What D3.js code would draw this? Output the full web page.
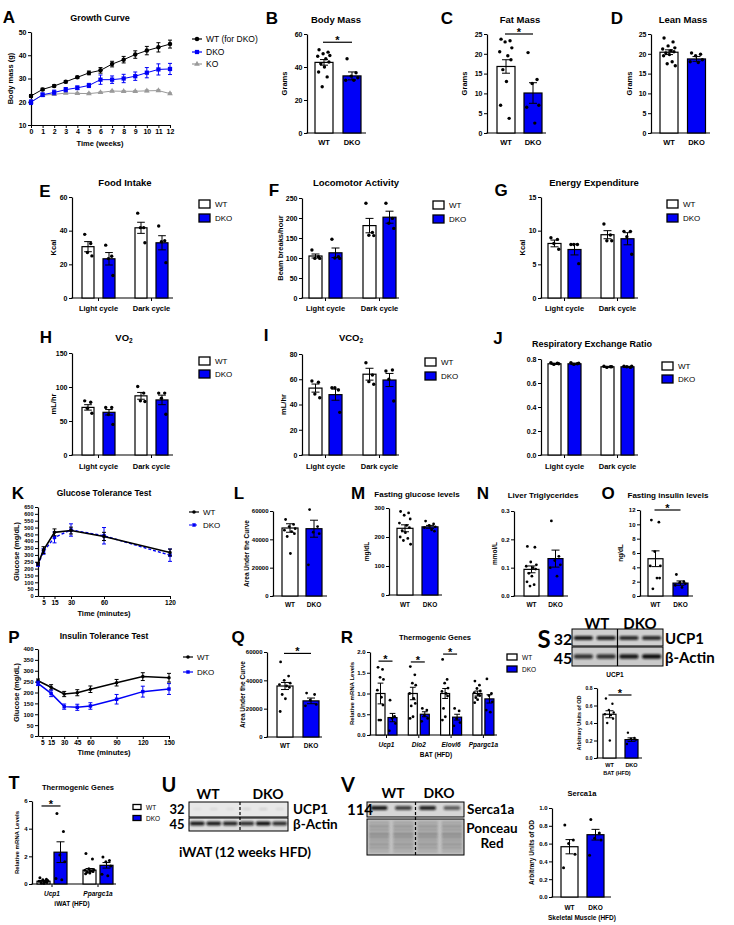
<!DOCTYPE html>
<html><head><meta charset="utf-8">
<script src="https://cdn.jsdelivr.net/npm/d3@7"></script>
<style>body{margin:0;background:#fff}svg{display:block}</style>
</head><body><script>
// ---------------- DATA ----------------
const groupLabels = ['WT','DKO'];
const cycleLabels = ['Light cycle','Dark cycle'];
const genesBAT = ['Ucp1','Dio2','Elovl6','Ppargc1a'];
const genesIWAT = ['Ucp1','Ppargc1a'];

const weeks = [0,1,2,3,4,5,6,7,8,9,10,11,12];
const growthWT = [22.5,25.3,26.8,28.6,30.5,32.4,33.5,36.2,38.1,40.3,42.0,43.4,44.8];
const growthWTErr = [0.6,0.5,0.5,0.5,0.5,0.8,1.2,1.2,1.4,1.6,1.8,2.0,1.7];
const growthDKO = [19.8,23.0,24.0,25.2,26.0,27.0,29.5,29.5,30.0,31.0,32.5,33.9,34.1];
const growthDKOErr = [1.0,0.8,1.0,0.9,0.8,0.9,2.0,1.6,1.8,1.8,2.2,2.4,2.4];
const growthKO = [20.0,22.8,23.2,23.7,23.6,23.5,24.0,24.6,24.5,24.5,24.7,24.8,23.5];
const growthKOErr = [0.4,0.5,0.5,0.3,0.3,0.3,0.3,0.3,0.3,0.3,0.4,0.4,0.3];
const growthLegend = ['WT (for DKO)','DKO','KO'];

const bodyMassMean = [42.8,34.6], bodyMassErr = [1.7,2.4];
const bodyMassWT = [50.5,49,48,47,46.5,45,43,42,40,37,34,28];
const bodyMassDKO = [45,36.5,34.5,33.5,32,32];
const fatMassMean = [16.8,10.1], fatMassErr = [1.7,2.6];
const fatMassWT = [23.7,23.3,23,21.5,20.5,19.5,18.5,16,13,7,3.7];
const fatMassDKO = [20.3,13.5,12.5,7,6.5,2.5];
const leanMassMean = [20.4,18.7], leanMassErr = [0.6,0.6];
const leanMassWT = [24,23,22,21.5,21.2,20.8,20.5,20.2,19.8,19.5,18,17.5,17];
const leanMassDKO = [20.2,19.9,19.5,18.5,18,17.8];

const foodWT = [30.5,41.7], foodWTErr = [3,3.3], foodDKO = [23.3,32.8], foodDKOErr = [3.7,4.2];
const foodWTDots = [[37.8,32.4,27,25],[50.4,41.8,41.8,32.8]];
const foodDKODots = [[31.4,24.8,23.4,13.4],[42.8,34,33.4,21]];
const locoWT = [105,181], locoWTErr = [5,18], locoDKO = [113,202], locoDKOErr = [12,15];
const locoWTDots = [[120,103,99,99],[237,164,157,156]];
const locoDKODots = [[147,103,100,99],[237,199,187,174]];
const energyWT = [8.1,9.4], energyWTErr = [0.5,0.6], energyDKO = [7.2,8.8], energyDKOErr = [0.8,0.9];
const energyWTDots = [[8.95,8.7,8.1,7.25],[11,9.35,8.5,8.5]];
const energyDKODots = [[7.95,7.95,7.95,5.1],[9.9,9.9,9.1,6.5]];
const vo2WT = [70,87], vo2WTErr = [4,5], vo2DKO = [62.8,81], vo2DKOErr = [4,7];
const vo2WTDots = [[79.6,77.6,68.7,61.3],[100.7,91,79.6,78.6]];
const vo2DKODots = [[70,70,59.4,45],[91,91,83.5,60]];
const vco2WT = [53,64], vco2WTErr = [3.2,4.7], vco2DKO = [47.8,59.4], vco2DKOErr = [4.4,5.2];
const vco2WTDots = [[58.6,57.6,48.3,45.4],[73.1,63.4,58.1,56]];
const vco2DKODots = [[53.3,51.5,53.3,33.8],[66.5,67.3,60,42.8]];
const rerWT = [0.76,0.735], rerWTErr = [0.005,0.004], rerDKO = [0.76,0.735], rerDKOErr = [0.006,0.004];
const rerWTDots = [[0.77,0.765,0.755,0.76],[0.74,0.735,0.73,0.735]];
const rerDKODots = [[0.77,0.76,0.755,0.765],[0.74,0.73,0.735,0.74]];

const gttTime = [0,5,15,30,60,120];
const gttWT = [235,335,465,478,435,318], gttWTErr = [10,25,25,25,30,25];
const gttDKO = [228,325,428,482,440,298], gttDKOErr = [10,20,40,45,60,45];
const gttTicks = [5,15,30,60,120];
const gttAucMean = [48000,47500], gttAucErr = [3000,6000];
const gttAucWT = [54000,50500,49000,47500,46500,45500,44000,42000,30000];
const gttAucDKO = [61000,49000,45000,44000,22000];
const fastGluMean = [230,235], fastGluErr = [12,5];
const fastGluWT = [288,283,275,262,248,240,232,222,215,200,195,188,175];
const fastGluDKO = [255,245,240,235,232,225,220];
const liverTgMean = [0.094,0.132], liverTgErr = [0.012,0.03];
const liverTgWT = [0.175,0.172,0.12,0.11,0.105,0.1,0.095,0.08,0.07,0.05,0.04,0.035];
const liverTgDKO = [0.265,0.14,0.125,0.11,0.1,0.07];
const insulinMean = [5.2,1.8], insulinErr = [1.1,0.3];
const insulinWT = [10.6,10.3,6.2,4.2,4.2,2.5,2.5,1.0];
const insulinDKO = [3.0,2.0,1.9,1.7,1.5,1.2];

const ittTime = [0,15,30,45,60,90,120,150];
const ittWT = [254,224,193,199,215,245,273,268], ittWTErr = [8,12,12,14,15,15,18,20];
const ittDKO = [242,196,135,132,138,169,204,216], ittDKOErr = [10,15,12,14,15,22,25,25];
const ittTicks = [5,15,30,45,60,90,120,150];
const ittAucMean = [36000,25500], ittAucErr = [2500,2000];
const ittAucWT = [53000,43000,40000,38000,37000,36000,35000,30000,27000,18000];
const ittAucDKO = [31000,30000,26000,23000,22000];

const batWT = [1,1,1,1], batWTErr = [0.25,0.15,0.12,0.06];
const batDKO = [0.42,0.5,0.43,0.87], batDKOErr = [0.1,0.06,0.07,0.1];
const batWTDots = [[1.63,1.58,1.39,1.34,1.08,0.91,0.72,0.36,0.36],[1.65,1.45,1.25,1.2,1.0,0.88,0.76,0.7,0.44,0.4],[1.82,1.34,1.25,1.13,1.05,1.0,0.94,0.64,0.44,0.36],[1.3,1.2,1.12,1.06,1.02,0.98,0.95,0.9,0.85,0.78]];
const batDKODots = [[0.84,0.45,0.4,0.28,0.1],[0.64,0.6,0.48,0.4,0.33],[0.64,0.58,0.4,0.3,0.22],[1.35,1.0,0.95,0.8,0.6,0.55]];
const batSig = [1.78,1.76,1.95,null];

const ucp1BatMean = [0.5,0.21], ucp1BatErr = [0.04,0.02];
const ucp1BatWT = [0.68,0.62,0.55,0.52,0.5,0.49,0.45,0.4,0.2];
const ucp1BatDKO = [0.29,0.23,0.22,0.21,0.16];

const iwatWT = [0.2,1.0], iwatWTErr = [0.05,0.12], iwatDKO = [2.3,1.35], iwatDKOErr = [0.75,0.2];
const iwatWTDots = [[0.45,0.35,0.3,0.25,0.2,0.15,0.1,0.08,0.05],[2.2,1.8,1.1,1.05,1.0,0.95,0.9,0.85,0.8,0.75]];
const iwatDKODots = [[5.1,3.8,2.1,1.6,0.4,0.3],[1.95,1.7,1.6,1.3,0.7,0.6]];
const iwatSig = [5.64,null];

const sercaMean = [0.565,0.7], sercaErr = [0.08,0.06];
const sercaWT = [0.81,0.64,0.6,0.48,0.33];
const sercaDKO = [0.87,0.72,0.66,0.64,0.47];

// blot band intensities (per lane)
const blotS_UCP1 = [0.95,0.9,0.85,0.85];
const blotS_Actin = [0.8,0.8,0.95,1.0];
const blotU_UCP1 = [0.05,0.08,0.06,0.1,0.12,0.08];
const blotU_Actin = [0.95,0.95,0.9,0.85,1.0,0.85];
const blotV_Serca = [0.95,0.75,0.9,0.6];
const ponceauPos = [0.1,0.2,0.3,0.41,0.5,0.6,0.7,0.8,0.9];
const ponceauAlpha = [0.25,0.35,0.3,0.45,0.4,0.3,0.35,0.3,0.2];

// ---------------- DRAWING ----------------
const FONT = '"Liberation Sans", Arial, sans-serif';
const BFONT = 'Lato, "Liberation Sans", sans-serif';
const BLUE = '#0000f7';
const svg = d3.select('body').append('svg').attr('width',734).attr('height',925);
const defs = svg.append('defs');
defs.append('filter').attr('id','blur').attr('x','-50%').attr('y','-100%').attr('width','200%').attr('height','300%')
  .append('feGaussianBlur').attr('stdDeviation',1.1);
const JIT = [-0.55,0.45,-0.1,0.65,-0.7,0.2,0.55,-0.35,0.05,-0.6,0.35,-0.2,0.7];

function txt(x,y,s,o={}){
  return svg.append('text').attr('x',x).attr('y',y)
    .attr('text-anchor',o.anchor||'middle').attr('dominant-baseline','central')
    .attr('font-family',o.family||FONT).attr('font-size',o.size||8)
    .attr('font-weight',o.weight||'bold').attr('font-style',o.style||'normal')
    .attr('fill',o.fill||'#000').text(s);
}
function vtxt(x,y,s,size){
  return svg.append('text').attr('transform',`translate(${x},${y}) rotate(-90)`)
    .attr('text-anchor','middle').attr('dominant-baseline','central')
    .attr('font-family',FONT).attr('font-size',size).attr('font-weight','bold').text(s);
}
function band(domain, first, w, gap){
  const s = w+gap, p = gap/s;
  return d3.scaleBand().domain(domain).range([first-gap/2, first-gap/2+domain.length*s]).paddingInner(p).paddingOuter(p/2);
}
function yAxis(y,x,ticks,fmt,size){
  const g = svg.append('g').attr('transform',`translate(${x},0)`)
    .call(d3.axisLeft(y).tickValues(ticks).tickFormat(fmt).tickSize(3).tickSizeOuter(0).tickPadding(1.5));
  g.attr('font-family',FONT).attr('font-size',size).attr('font-weight','bold');
  g.select('.domain').attr('stroke-width',1.2);
  g.selectAll('.tick line').attr('stroke-width',1);
  return g;
}
function hLine(x1,x2,y,w){
  svg.append('line').attr('x1',x1).attr('x2',x2).attr('y1',y).attr('y2',y).attr('stroke','#000').attr('stroke-width',w||1.2);
}
function star(x1,x2,yv){
  hLine(x1,x2,yv,1.2);
  svg.append('text').attr('x',(x1+x2)/2).attr('y',yv+2).attr('text-anchor','middle')
    .attr('font-family',FONT).attr('font-size',11).attr('font-weight','bold').text('*');
}
function drawBar(y,left,w,mean,err,dots,fill,r){
  const y0 = y(0);
  svg.append('rect').attr('x',left).attr('y',y(mean)).attr('width',w).attr('height',y0-y(mean))
    .attr('fill',fill).attr('stroke','#000').attr('stroke-width',1.2);
  const cx = left+w/2, cw = Math.min(w*0.32,4);
  svg.append('line').attr('x1',cx).attr('x2',cx).attr('y1',y(mean-err)).attr('y2',y(mean+err)).attr('stroke','#000').attr('stroke-width',1);
  [mean-err,mean+err].forEach(v=>svg.append('line').attr('x1',cx-cw).attr('x2',cx+cw).attr('y1',y(v)).attr('y2',y(v)).attr('stroke','#000').attr('stroke-width',1));
  dots.forEach((v,i)=>svg.append('circle').attr('cx',cx+JIT[i%JIT.length]*w*0.5).attr('cy',y(v)).attr('r',r||1.7).attr('fill','#000'));
}
function simplePanel(c){
  const y = d3.scaleLinear().domain(c.domain).range([c.bottom,c.top]);
  const x = band(groupLabels,c.first,c.w,c.gap);
  yAxis(y,c.axisX,c.ticks,c.fmt||d3.format('d'),c.tick||7);
  hLine(c.axisX-0.6,c.xEnd,y(0));
  groupLabels.forEach((k,i)=>drawBar(y,x(k),x.bandwidth(),c.means[i],c.errs[i],c.dots[i],i?BLUE:'#fff',c.r));
  groupLabels.forEach(k=>txt(x(k)+x.bandwidth()/2,c.catY,k,{size:c.cat||7.5}));
  if(c.title) txt(c.titleX,c.titleY,c.title,{size:c.titleSize||9.5});
  if(c.ylabel) vtxt(c.ylabelX,(c.top+c.bottom)/2,c.ylabel,c.ylSize||7.5);
  if(c.letter) txt(c.letterX,c.letterY,c.letter,{size:c.letterSize||17});
  if(c.xlabel) txt(c.xlabel[1],c.xlabel[2],c.xlabel[0],{size:c.cat||7.5});
  if(c.sig!=null) star(x('WT')+x.bandwidth()/2-1,x('DKO')+x.bandwidth()/2,y(c.sig));
}
function legendBoxes(lx,ys,bw,bh,size){
  groupLabels.forEach((k,i)=>{
    svg.append('rect').attr('x',lx).attr('y',ys[i]-bh/2).attr('width',bw).attr('height',bh)
      .attr('fill',i?BLUE:'#fff').attr('stroke','#000').attr('stroke-width',1.3);
    txt(lx+bw+5,ys[i],k,{anchor:'start',weight:'normal',size:size});
  });
}
function groupedPanel(c){
  const y = d3.scaleLinear().domain(c.domain).range([c.bottom,c.top]);
  const span = 2*c.w+c.gap;
  const gx = band(c.groups,c.first,span,c.step-span);
  const sx = band(groupLabels,0,c.w,c.gap);
  yAxis(y,c.axisX,c.ticks,c.fmt||d3.format('d'),c.tick||7);
  hLine(c.axisX-0.6,c.xEnd,y(0));
  c.groups.forEach((g,gi)=>{
    groupLabels.forEach((s,si)=>drawBar(y,gx(g)+sx(s),c.w,c.means[si][gi],c.errs[si][gi],c.dots[si][gi],si?BLUE:'#fff',c.r));
    const cx = gx(g)+span/2;
    svg.append('line').attr('x1',cx).attr('x2',cx).attr('y1',y(0)).attr('y2',y(0)+3).attr('stroke','#000').attr('stroke-width',1);
    txt(cx,c.catY,g,{size:c.cat||7.5,style:c.italic?'italic':'normal'});
    if(c.sig && c.sig[gi]!=null) star(gx(g)+sx('WT')+c.w/2-2,gx(g)+sx('DKO')+c.w/2,y(c.sig[gi]));
  });
  legendBoxes(c.leg.x,c.leg.y,c.leg.bw||11,c.leg.bh||8,c.leg.size||8);
  if(c.title){ const t = txt(c.titleX,c.titleY,c.title,{size:c.titleSize||9.5}); if(c.sub){ t.append('tspan').attr('font-size',6.5).attr('dy',2.5).text(c.sub);} }
  if(c.ylabel) vtxt(c.ylabelX,(c.top+c.bottom)/2,c.ylabel,c.ylSize||7.5);
  if(c.letter) txt(c.letterX,c.letterY,c.letter,{size:c.letterSize||17});
  if(c.xlabel) txt(c.xlabel[1],c.xlabel[2],c.xlabel[0],{size:c.cat||7.5});
}
function linePanel(c){
  const x = d3.scaleLinear().domain(c.xd).range([c.x0,c.x1]);
  const y = d3.scaleLinear().domain(c.yd).range([c.y0,c.y1]);
  yAxis(y,c.x0,c.yticks,d3.format('d'),c.tick);
  const gx = svg.append('g').attr('transform',`translate(0,${c.y0})`)
    .call(d3.axisBottom(x).tickValues(c.xticks).tickFormat(d3.format('d')).tickSize(3).tickSizeOuter(0).tickPadding(1.5));
  gx.attr('font-family',FONT).attr('font-size',c.xtick||c.tick).attr('font-weight','bold');
  gx.select('.domain').attr('stroke-width',1.2);
  c.series.forEach(s=>{
    const pts = s.vals.map((v,i)=>[c.xs[i],v,s.errs[i]]);
    svg.append('path').datum(pts).attr('d',d3.line().x(d=>x(d[0])).y(d=>y(d[1])))
      .attr('fill','none').attr('stroke',s.color).attr('stroke-width',s.lw||1).attr('stroke-dasharray',s.dash||null);
    pts.forEach(d=>{
      svg.append('line').attr('x1',x(d[0])).attr('x2',x(d[0])).attr('y1',y(d[1]-d[2])).attr('y2',y(d[1]+d[2])).attr('stroke',s.color).attr('stroke-width',1);
      [d[1]-d[2],d[1]+d[2]].forEach(v=>svg.append('line').attr('x1',x(d[0])-2).attr('x2',x(d[0])+2).attr('y1',y(v)).attr('y2',y(v)).attr('stroke',s.color).attr('stroke-width',1));
      svg.append('path').attr('d',d3.symbol().type(s.sym).size(s.size)()).attr('transform',`translate(${x(d[0])},${y(d[1])})`).attr('fill',s.color);
    });
  });
  c.series.forEach((s,i)=>{
    const ly = c.leg.y[i];
    svg.append('line').attr('x1',c.leg.x).attr('x2',c.leg.x+10).attr('y1',ly).attr('y2',ly).attr('stroke',s.color).attr('stroke-width',1.2).attr('stroke-dasharray',s.dash||null);
    svg.append('path').attr('d',d3.symbol().type(s.sym).size(s.size)()).attr('transform',`translate(${c.leg.x+5},${ly})`).attr('fill',s.color);
    txt(c.leg.x+14,ly,s.name,{anchor:'start',weight:'normal',size:c.leg.size||8.5});
  });
  txt(c.titleX,c.titleY,c.title,{size:c.titleSize||9});
  txt(c.xlabX,c.xlabY,c.xlab,{size:7.5});
  vtxt(c.ylabX,(c.y0+c.y1)/2,c.ylab,7.5);
  txt(c.letterX,c.letterY,c.letter,{size:17});
}

// ---- Row 1 ----
linePanel({xd:[0,12],x0:31,x1:170,yd:[10,50],y0:125,y1:32,xs:weeks,xticks:weeks,yticks:[10,20,30,40,50],tick:7,
  series:[
    {name:growthLegend[2],vals:growthKO,errs:growthKOErr,color:'#9a9a9a',sym:d3.symbolTriangle,size:14},
    {name:growthLegend[1],vals:growthDKO,errs:growthDKOErr,color:BLUE,sym:d3.symbolSquare,size:18},
    {name:growthLegend[0],vals:growthWT,errs:growthWTErr,color:'#000',sym:d3.symbolCircle,size:16}],
  leg:{x:192,y:[64,52,39],size:8.5},title:'Growth Curve',titleX:100,titleY:18,
  xlab:'Time (weeks)',xlabX:100,xlabY:143,ylab:'Body mass (g)',ylabX:10,letter:'A',letterX:9,letterY:17});
simplePanel({axisX:307,xEnd:366,domain:[0,60],top:34,bottom:133,ticks:[0,20,40,60],first:315,w:18,gap:10,
  means:bodyMassMean,errs:bodyMassErr,dots:[bodyMassWT,bodyMassDKO],catY:142,title:'Body Mass',titleX:336,titleY:19,
  ylabel:'Grams',ylabelX:284,letter:'B',letterX:272,letterY:18,sig:55});
simplePanel({axisX:487,xEnd:546,domain:[0,25],top:34,bottom:133,ticks:[0,5,10,15,20,25],first:497,w:18,gap:9,
  means:fatMassMean,errs:fatMassErr,dots:[fatMassWT,fatMassDKO],catY:142,title:'Fat Mass',titleX:520,titleY:19,
  ylabel:'Grams',ylabelX:464,letter:'C',letterX:447,letterY:18,sig:25});
simplePanel({axisX:651,xEnd:710,domain:[0,25],top:34,bottom:133,ticks:[0,5,10,15,20,25],first:660,w:18,gap:9.5,
  means:leanMassMean,errs:leanMassErr,dots:[leanMassWT,leanMassDKO],catY:142,title:'Lean Mass',titleX:683,titleY:19,
  ylabel:'Grams',ylabelX:629,letter:'D',letterX:617,letterY:18});

// ---- Row 2 ----
groupedPanel({axisX:72,xEnd:173,domain:[0,60],top:197,bottom:298,ticks:[0,20,40,60],groups:cycleLabels,first:82,w:12,gap:9,step:53,
  means:[foodWT,foodDKO],errs:[foodWTErr,foodDKOErr],dots:[foodWTDots,foodDKODots],catY:308,
  leg:{x:199,y:[204,218]},title:'Food Intake',titleX:125,titleY:182,ylabel:'Kcal',ylabelX:53,letter:'E',letterX:45,letterY:191});
groupedPanel({axisX:302,xEnd:399,domain:[0,250],top:198,bottom:298,ticks:[0,50,100,150,200,250],groups:cycleLabels,first:309,w:13,gap:7,step:54,
  means:[locoWT,locoDKO],errs:[locoWTErr,locoDKOErr],dots:[locoWTDots,locoDKODots],catY:308,
  leg:{x:433,y:[205,219]},title:'Locomotor Activity',titleX:356,titleY:182,ylabel:'Beam breaks/hour',ylabelX:280,letter:'F',letterX:274,letterY:190});
groupedPanel({axisX:541,xEnd:638,domain:[0,15],top:197,bottom:298,ticks:[0,5,10,15],groups:cycleLabels,first:548,w:13,gap:7,step:53,
  means:[energyWT,energyDKO],errs:[energyWTErr,energyDKOErr],dots:[energyWTDots,energyDKODots],catY:308,
  leg:{x:667,y:[204,218]},title:'Energy Expenditure',titleX:594,titleY:182,ylabel:'Kcal',ylabelX:522,letter:'G',letterX:501,letterY:190});

// ---- Row 3 ----
groupedPanel({axisX:72,xEnd:173,domain:[0,150],top:353,bottom:455,ticks:[0,50,100,150],groups:cycleLabels,first:82,w:12,gap:9,step:53,
  means:[vo2WT,vo2DKO],errs:[vo2WTErr,vo2DKOErr],dots:[vo2WTDots,vo2DKODots],catY:466,
  leg:{x:199,y:[361,374]},title:'VO',sub:'2',titleX:124,titleY:337,ylabel:'mL/hr',ylabelX:53,letter:'H',letterX:46,letterY:337});
groupedPanel({axisX:302,xEnd:399,domain:[0,80],top:354,bottom:455,ticks:[0,20,40,60,80],groups:cycleLabels,first:309,w:13,gap:7,step:54,
  means:[vco2WT,vco2DKO],errs:[vco2WTErr,vco2DKOErr],dots:[vco2WTDots,vco2DKODots],catY:466,
  leg:{x:425,y:[362,376]},title:'VCO',sub:'2',titleX:351,titleY:337,ylabel:'mL/hr',ylabelX:283,letter:'I',letterX:266,letterY:335});
groupedPanel({axisX:541,xEnd:638,domain:[0,0.8],top:359,bottom:455,ticks:[0,0.2,0.4,0.6,0.8],fmt:d3.format('.1f'),groups:cycleLabels,first:548,w:13,gap:7,step:53,
  means:[rerWT,rerDKO],errs:[rerWTErr,rerDKOErr],dots:[rerWTDots,rerDKODots],catY:466,
  leg:{x:662,y:[366,379]},title:'Respiratory Exchange Ratio',titleSize:9,titleX:592,titleY:344,letter:'J',letterX:498,letterY:338});

// ---- Row 4 ----
linePanel({xd:[0,120],x0:38,x1:170,yd:[0,650],y0:596,y1:507,xs:gttTime,xticks:gttTicks,yticks:d3.range(0,651,50),tick:5.5,xtick:6.5,
  series:[
    {name:'DKO',vals:gttDKO,errs:gttDKOErr,color:BLUE,sym:d3.symbolSquare,size:12,dash:'3,2',lw:1.4},
    {name:'WT',vals:gttWT,errs:gttWTErr,color:'#000',sym:d3.symbolCircle,size:10,lw:1.6}],
  leg:{x:189,y:[525,512],size:8},title:'Glucose Tolerance Test',titleSize:8.5,titleX:104,titleY:493,
  xlab:'Time (minutes)',xlabX:104,xlabY:613,ylab:'Glucose (mg/dL)',ylabX:16,letter:'K',letterX:18,letterY:493});
simplePanel({axisX:273,xEnd:327,domain:[0,60000],top:511,bottom:596,ticks:[0,20000,40000,60000],tick:6,first:282,w:16,gap:8,r:1.4,
  means:gttAucMean,errs:gttAucErr,dots:[gttAucWT,gttAucDKO],catY:604,cat:6.5,ylabel:'Area Under the Curve',ylSize:6.5,ylabelX:246,letter:'L',letterX:239,letterY:493});
simplePanel({axisX:389,xEnd:442,domain:[0,300],top:508,bottom:595,ticks:[0,100,200,300],tick:6,first:397,w:16,gap:9,r:1.4,
  means:fastGluMean,errs:fastGluErr,dots:[fastGluWT,fastGluDKO],catY:604,cat:6.5,title:'Fasting glucose levels',titleSize:8,titleX:417,titleY:494,
  ylabel:'mg/dL',ylSize:6.5,ylabelX:366,letter:'M',letterX:358,letterY:493});
simplePanel({axisX:514,xEnd:568,domain:[0,0.3],top:511,bottom:596,ticks:[0,0.1,0.2,0.3],fmt:d3.format('.1f'),tick:6,first:524,w:15,gap:9,r:1.4,
  means:liverTgMean,errs:liverTgErr,dots:[liverTgWT,liverTgDKO],catY:604,cat:6.5,title:'Liver Triglycerides',titleSize:8,titleX:543,titleY:495,
  ylabel:'mmol/L',ylSize:6.5,ylabelX:494,letter:'N',letterX:483,letterY:493});
simplePanel({axisX:640,xEnd:693,domain:[0,12],top:510,bottom:596,ticks:[0,2,4,6,8,10,12],tick:6,first:648,w:15,gap:10,r:1.4,
  means:insulinMean,errs:insulinErr,dots:[insulinWT,insulinDKO],catY:604,cat:6.5,title:'Fasting insulin levels',titleSize:8,titleX:668,titleY:495,
  ylabel:'ng/dL',ylSize:6.5,ylabelX:620,letter:'O',letterX:608,letterY:493,sig:12});

// ---- Row 5 ----
linePanel({xd:[0,150],x0:38,x1:169,yd:[0,400],y0:736,y1:649,xs:ittTime,xticks:ittTicks,yticks:d3.range(0,401,50),tick:6,xtick:6.5,
  series:[
    {name:'WT',vals:ittWT,errs:ittWTErr,color:'#000',sym:d3.symbolCircle,size:10,lw:1.5},
    {name:'DKO',vals:ittDKO,errs:ittDKOErr,color:BLUE,sym:d3.symbolSquare,size:12,lw:1.5}],
  leg:{x:183,y:[657,672],size:8},title:'Insulin Tolerance Test',titleSize:8.5,titleX:104,titleY:636,
  xlab:'Time (minutes)',xlabX:104,xlabY:752,ylab:'Glucose (mg/dL)',ylabX:16,letter:'P',letterX:14,letterY:637});
simplePanel({axisX:267,xEnd:322,domain:[0,60000],top:652,bottom:737,ticks:[0,20000,40000,60000],tick:6,first:277,w:16,gap:10,r:1.4,
  means:ittAucMean,errs:ittAucErr,dots:[ittAucWT,ittAucDKO],catY:745,cat:6.5,ylabel:'Area Under the Curve',ylSize:6.5,ylabelX:242,
  letter:'Q',letterX:238,letterY:637,sig:59000});
groupedPanel({axisX:370,xEnd:497,domain:[0,2],top:652,bottom:735,ticks:[0,0.5,1,1.5,2],fmt:d3.format('.1f'),tick:6,groups:genesBAT,first:376,w:9,gap:3,step:32.3,r:1.4,
  means:[batWT,batDKO],errs:[batWTErr,batDKOErr],dots:[batWTDots,batDKODots],catY:744,cat:6.5,italic:true,sig:batSig,
  leg:{x:507,y:[657,669],bw:10,bh:6,size:6.5},title:'Thermogenic Genes',titleSize:7.5,titleX:435,titleY:637,
  ylabel:'Relative mRNA Levels',ylSize:6,ylabelX:352,letter:'R',letterX:347,letterY:637,xlabel:['BAT (HFD)',436,754]});
simplePanel({axisX:597,xEnd:642,domain:[0,0.8],top:688,bottom:758,ticks:[0,0.2,0.4,0.6,0.8],fmt:d3.format('.1f'),tick:5,first:603,w:13,gap:9,r:1.2,
  means:ucp1BatMean,errs:ucp1BatErr,dots:[ucp1BatWT,ucp1BatDKO],catY:765,cat:5.5,title:'UCP1',titleSize:6.5,titleX:615,titleY:674,
  ylabel:'Arbitrary Units of OD',ylSize:5.5,ylabelX:579,xlabel:['BAT (HFD)',617,773],sig:0.72});

// ---- Row 6 ----
groupedPanel({axisX:32,xEnd:116,domain:[0,6],top:801,bottom:884,ticks:[0,2,4,6],tick:6,groups:genesIWAT,first:37,w:13,gap:4,step:46,r:1.5,
  means:[iwatWT,iwatDKO],errs:[iwatWTErr,iwatDKOErr],dots:[iwatWTDots,iwatDKODots],catY:893,cat:6.5,italic:true,sig:iwatSig,
  leg:{x:133,y:[807,818],bw:8,bh:5,size:6.5},title:'Thermogenic Genes',titleSize:7.5,titleX:78,titleY:787,
  ylabel:'Relative mRNA Levels',ylSize:6,ylabelX:17,letter:'T',letterX:14,letterY:783,letterSize:18,xlabel:['iWAT (HFD)',72,903]});
simplePanel({axisX:552,xEnd:611,domain:[0,1],top:808,bottom:897,ticks:[0,0.2,0.4,0.6,0.8,1],fmt:d3.format('.1f'),tick:6,first:561,w:17,gap:9,r:1.5,
  means:sercaMean,errs:sercaErr,dots:[sercaWT,sercaDKO],catY:907,cat:6.5,title:'Serca1a',titleSize:7.5,titleX:582,titleY:793,
  ylabel:'Arbitrary Units of OD',ylSize:6.5,ylabelX:531,xlabel:['Skeletal Muscle (HFD)',582,917]});

// ---- Blots ----
function blotBox(x0,x1,y0,y1,bg){
  svg.append('rect').attr('x',x0).attr('y',y0).attr('width',x1-x0).attr('height',y1-y0).attr('fill',bg).attr('stroke','#000').attr('stroke-width',1);
}
function blotBands(lanes,yc,h,intens,wfrac){
  intens.forEach((a,i)=>{
    const bw = lanes.bandwidth()*(wfrac||0.85);
    svg.append('rect').attr('x',lanes(i)+(lanes.bandwidth()-bw)/2).attr('y',yc-h/2).attr('width',bw).attr('height',h).attr('rx',h/2)
      .attr('fill','#111').attr('opacity',a).attr('filter','url(#blur)');
  });
}
function divider(x,y0,y1,dash){
  svg.append('line').attr('x1',x).attr('x2',x).attr('y1',y0).attr('y2',y1).attr('stroke','#000').attr('stroke-width',1.2).attr('stroke-dasharray',dash?'3,2':null);
}
// S
const lanesS = d3.scaleBand().domain(d3.range(4)).range([572,663]);
blotBox(572,663,629,646,'#cfcfcf'); blotBox(572,663,647,666,'#cacaca');
blotBands(lanesS,638,4,blotS_UCP1); blotBands(lanesS,656.5,4.5,blotS_Actin);
divider(lanesS(2),629,666,false);
txt(544,638,'S',{family:BFONT,size:24});
txt(563,638,'32',{family:BFONT,size:16}); txt(563,657,'45',{family:BFONT,size:16});
txt(597,623,'WT',{family:BFONT,size:15}); txt(640,623,'DKO',{family:BFONT,size:15});
txt(665,638,'UCP1',{family:BFONT,size:15,anchor:'start'}); txt(665,657,'β-Actin',{family:BFONT,size:15,anchor:'start'});
// U
const lanesU = d3.scaleBand().domain(d3.range(6)).range([189,288]);
blotBox(189,288,802,817,'#e8e8e8'); blotBox(189,288,818,831,'#dedede');
blotBands(lanesU,809,2,blotU_UCP1,0.5); blotBands(lanesU,823.5,4,blotU_Actin,0.9);
divider(lanesU(3)+1.5,802,831,true);
txt(169,784,'U',{family:BFONT,size:20});
txt(208,793,'WT',{family:BFONT,size:14}); txt(268,793,'DKO',{family:BFONT,size:14});
txt(177,809,'32',{family:BFONT,size:13}); txt(177,824,'45',{family:BFONT,size:13});
txt(293,809,'UCP1',{family:BFONT,size:13.5,anchor:'start'}); txt(293,824,'β-Actin',{family:BFONT,size:13.5,anchor:'start'});
txt(245,852,'iWAT (12 weeks HFD)',{family:BFONT,size:13.5});
// V
const lanesV = d3.scaleBand().domain(d3.range(4)).range([367,464]);
blotBox(367,464,802,817,'#d6d6d6');
blotBands(lanesV,808,4,blotV_Serca,0.7);
blotBox(367,464,819,855,'#c2c2c2');
const pY = d3.scaleLinear().domain([0,1]).range([819,855]);
ponceauPos.forEach((p,i)=>d3.range(4).forEach(l=>{
  svg.append('rect').attr('x',lanesV(l)+2).attr('y',pY(p)-1.2).attr('width',lanesV.bandwidth()-4).attr('height',2.4)
    .attr('fill','#333').attr('opacity',ponceauAlpha[i]).attr('filter','url(#blur)');
}));
divider(lanesV(2),802,855,true);
txt(348,784,'V',{family:BFONT,size:20});
txt(393,792,'WT',{family:BFONT,size:14}); txt(439,792,'DKO',{family:BFONT,size:14});
txt(360,809,'114',{family:BFONT,size:15});
txt(467,809,'Serca1a',{family:BFONT,size:13.5,anchor:'start'});
txt(492,828,'Ponceau',{family:BFONT,size:13.5}); txt(492,843,'Red',{family:BFONT,size:13.5});
</script></body></html>
